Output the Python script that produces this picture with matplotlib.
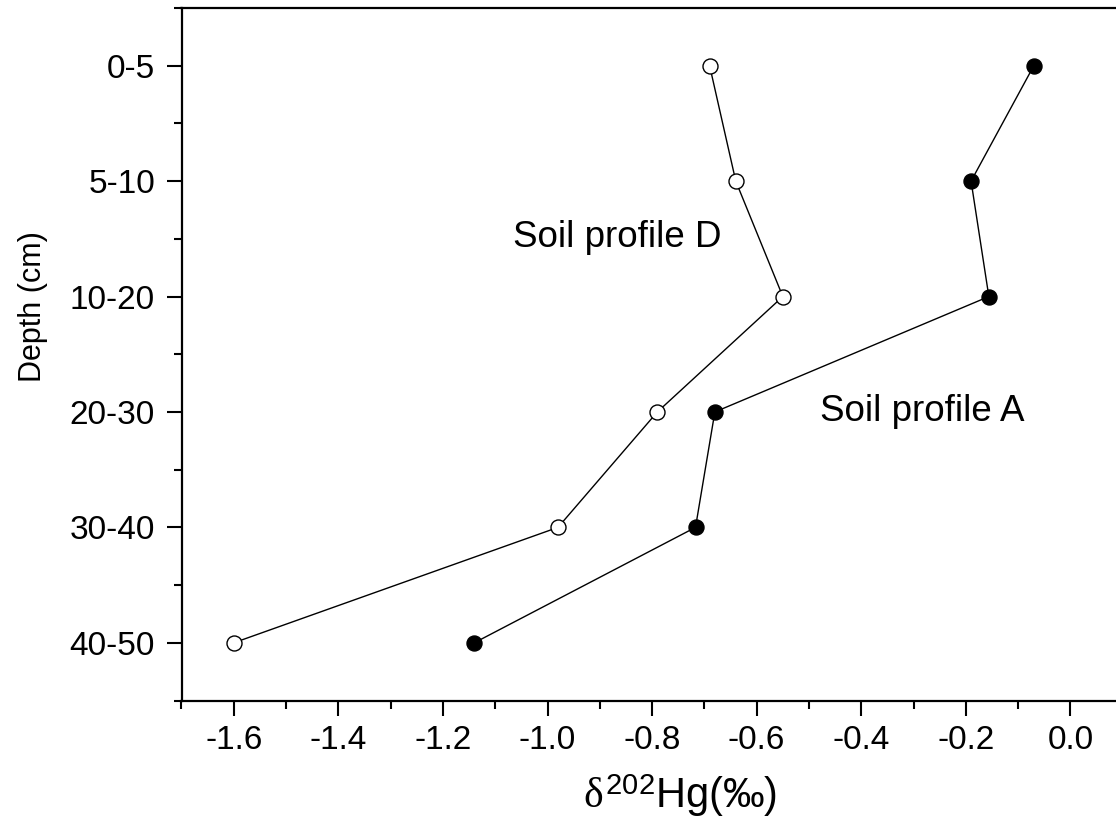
import numpy as np
import matplotlib
matplotlib.use("Agg")
import matplotlib.pyplot as plt
from matplotlib.ticker import MultipleLocator, FixedLocator

plt.rcParams["font.family"] = ["Liberation Sans", "DejaVu Sans"]
plt.rcParams["mathtext.fontset"] = "custom"
plt.rcParams["mathtext.it"] = "Liberation Serif"
plt.rcParams["mathtext.rm"] = "Liberation Serif"
plt.rcParams["mathtext.sf"] = "Liberation Sans"

depths = ["0-5", "5-10", "10-20", "20-30", "30-40", "40-50"]
profile_d = [-0.69, -0.64, -0.55, -0.79, -0.98, -1.60]
profile_a = [-0.07, -0.19, -0.156, -0.68, -0.717, -1.14]
xticks = [-1.6, -1.4, -1.2, -1.0, -0.8, -0.6, -0.4, -0.2, 0.0]
xtick_labels = ["-1.6", "-1.4", "-1.2", "-1.0", "-0.8", "-0.6", "-0.4", "-0.2", "0.0"]

W, H = 1116, 833
fig = plt.figure(figsize=(W / 100, H / 100), dpi=100)
# axes runs past the right edge of the figure, as in the reference
left, right, top, bottom = 181.5, 1175.0, 8.0, 700.5
ax = fig.add_axes([left / W, 1 - bottom / H, (right - left) / W, (bottom - top) / H])

y = np.arange(len(depths))
ax.plot(profile_d, y, "-o", color="black", linewidth=1.0,
        markersize=10.8, markerfacecolor="white", markeredgecolor="black",
        markeredgewidth=1.0)
ax.plot(profile_a, y, "-o", color="black", linewidth=1.0,
        markersize=10.8, markerfacecolor="black", markeredgecolor="black")

ax.set_xlim(-1.7, 0.2)
ax.set_ylim(5.5, -0.5)
ax.xaxis.set_major_locator(FixedLocator(xticks))
ax.xaxis.set_minor_locator(MultipleLocator(0.1))
ax.set_xticklabels(xtick_labels)
ax.yaxis.set_major_locator(FixedLocator(y))
ax.yaxis.set_minor_locator(MultipleLocator(0.5))
ax.set_yticklabels(depths)

ax.spines["right"].set_visible(False)
for s in ["left", "top", "bottom"]:
    ax.spines[s].set_linewidth(1.6)
ax.tick_params(which="major", direction="out", length=10.5, width=1.5,
               labelsize=24, pad=7)
ax.tick_params(axis="y", which="major", pad=8.5)
ax.tick_params(which="minor", direction="out", length=5.5, width=1.5)

ax.text(-1.066, 1.49, "Soil profile D", fontsize=26.5, va="center", ha="left")
ax.text(-0.478, 3.0, "Soil profile A", fontsize=26.5, va="center", ha="left")

fig.text(33 / W, 1 - 307 / H, "Depth (cm)", rotation=90, fontsize=22,
         ha="center", va="center")
fig.text(680 / W, 1 - 796 / H, r"$\delta^{\mathsf{202}}$Hg(‰)", fontsize=30,
         ha="center", va="center")

fig.savefig("out.png", dpi=100)
